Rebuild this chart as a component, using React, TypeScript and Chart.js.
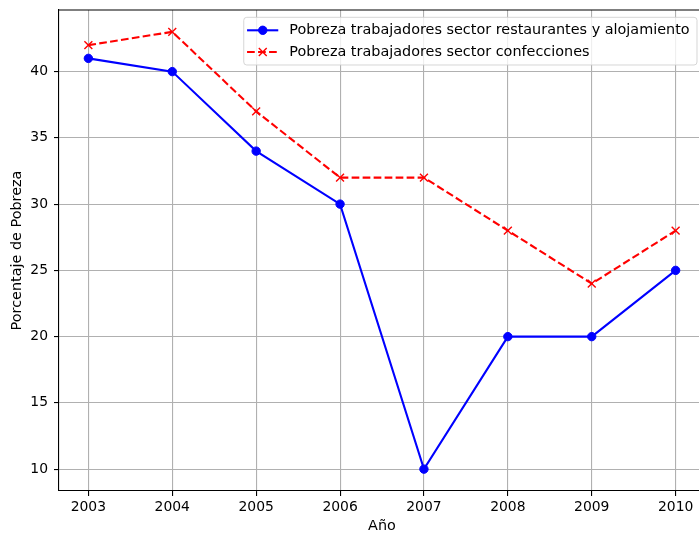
import { useEffect, useRef } from "react";
import { Chart, registerables } from "chart.js";

Chart.register(...registerables);

const years = [2003, 2004, 2005, 2006, 2007, 2008, 2009, 2010];
const restaurantes = [41, 40, 34, 30, 10, 20, 20, 25];
const confecciones = [42, 43, 37, 32, 32, 28, 24, 28];
const yTicks = [10, 15, 20, 25, 30, 35, 40];
const labelRest = "Pobreza trabajadores sector restaurantes y alojamiento";
const labelConf = "Pobreza trabajadores sector confecciones";
const xTitle = "Año";
const yTitle = "Porcentaje de Pobreza";

const FONT = "'DejaVu Sans', sans-serif";
const FS = 13.9;
const LFS = 14.4;

function margins(vals: number[]) {
  const lo = Math.min(...vals);
  const hi = Math.max(...vals);
  const m = (hi - lo) * 0.05;
  return [lo - m, hi + m];
}

const legendFrame = {
  id: "legendFrame",
  afterDraw(chart: any) {
    const { ctx, chartArea } = chart;
    ctx.save();
    // top spine
    ctx.strokeStyle = "#000";
    ctx.lineWidth = 1.1;
    ctx.beginPath();
    ctx.moveTo(chartArea.left, chartArea.top);
    ctx.lineTo(chartArea.right, chartArea.top);
    ctx.stroke();

    // legend
    ctx.font = `${LFS}px ${FONT}`;
    const ds = chart.data.datasets;
    const tw = Math.max(...ds.map((d: any) => ctx.measureText(d.label).width));
    const right = chartArea.right - 8;
    const textLeft = right - 7.4 - tw;
    const left = textLeft - 45.6;
    const top = chartArea.top + 7.3;
    const h = 47.7;
    ctx.beginPath();
    if ((ctx as any).roundRect) (ctx as any).roundRect(left, top, right - left, h, 3);
    else ctx.rect(left, top, right - left, h);
    ctx.fillStyle = "rgba(255,255,255,0.8)";
    ctx.fill();
    ctx.strokeStyle = "rgba(204,204,204,0.8)";
    ctx.lineWidth = 1;
    ctx.stroke();

    ds.forEach((d: any, i: number) => {
      const y = top + 13 + i * 21.7;
      const x0 = left + 3.3;
      const x1 = left + 34.5;
      const xm = left + 19;
      ctx.save();
      ctx.strokeStyle = d.borderColor;
      ctx.lineWidth = d.borderWidth;
      ctx.setLineDash(d.borderDash || []);
      ctx.beginPath();
      ctx.moveTo(x0, y);
      ctx.lineTo(x1, y);
      ctx.stroke();
      ctx.setLineDash([]);
      if (d.pointStyle === "circle") {
        ctx.beginPath();
        ctx.arc(xm, y, d.pointRadius, 0, Math.PI * 2);
        ctx.fillStyle = d.pointBackgroundColor;
        ctx.fill();
        ctx.lineWidth = d.pointBorderWidth;
        ctx.strokeStyle = d.pointBorderColor;
        ctx.stroke();
      } else {
        const r = d.pointRadius * Math.SQRT1_2;
        ctx.lineWidth = d.pointBorderWidth;
        ctx.strokeStyle = d.pointBorderColor;
        ctx.beginPath();
        ctx.moveTo(xm - r, y - r);
        ctx.lineTo(xm + r, y + r);
        ctx.moveTo(xm - r, y + r);
        ctx.lineTo(xm + r, y - r);
        ctx.stroke();
      }
      ctx.fillStyle = "#000";
      ctx.textBaseline = "middle";
      ctx.textAlign = "left";
      ctx.font = `${LFS}px ${FONT}`;
      ctx.fillText(d.label, textLeft, y);
      ctx.restore();
    });
    ctx.restore();
  },
};

export default function App() {
  const ref = useRef<HTMLCanvasElement>(null);
  useEffect(() => {
    if (!ref.current) return;
    const [xMin, xMax] = margins(years);
    const [yMin, yMax] = margins([...restaurantes, ...confecciones]);
    const tickFont = { family: FONT, size: FS };
    const titleFont = { family: FONT, size: LFS };
    const chart = new Chart(ref.current, {
      type: "line",
      data: {
        datasets: [
          {
            label: labelRest,
            data: years.map((x, i) => ({ x, y: restaurantes[i] })),
            borderColor: "blue",
            backgroundColor: "blue",
            borderWidth: 2.08,
            pointStyle: "circle",
            pointRadius: 4.2,
            pointBorderWidth: 1,
            pointBackgroundColor: "blue",
            pointBorderColor: "blue",
            tension: 0,
            order: 1,
          },
          {
            label: labelConf,
            data: years.map((x, i) => ({ x, y: confecciones[i] })),
            borderColor: "red",
            backgroundColor: "red",
            borderWidth: 2.08,
            borderDash: [7.7, 3.3],
            pointStyle: "crossRot",
            pointRadius: 5.6,
            pointBorderWidth: 1.4,
            pointBackgroundColor: "red",
            pointBorderColor: "red",
            tension: 0,
            order: 0,
          },
        ] as any,
      },
      options: {
        animation: false,
        responsive: false,
        devicePixelRatio: 1,
        layout: { autoPadding: false, padding: { top: 10, left: 0, right: 0, bottom: 0 } },
        plugins: { legend: { display: false }, tooltip: { enabled: false } },
        scales: {
          x: {
            type: "linear",
            min: xMin,
            max: xMax,
            afterBuildTicks: (s: any) => {
              s.ticks = years.map((v) => ({ value: v }));
            },
            afterFit: (s: any) => {
              s.height = 43;
              s.paddingLeft = 0;
              s.paddingRight = 0;
            },
            ticks: {
              font: tickFont,
              color: "#000",
              padding: 3.2,
              maxRotation: 0,
              autoSkip: false,
              callback: (v: any) => String(v),
            },
            grid: {
              color: "#b0b0b0",
              lineWidth: 1.1,
              tickLength: 5,
              tickColor: "#000",
              tickWidth: 1.1,
            },
            border: { color: "#000", width: 1.1 },
            title: {
              display: true,
              text: xTitle,
              font: titleFont,
              color: "#000",
              padding: { top: 0, bottom: -0.5 },
            },
          },
          y: {
            type: "linear",
            min: yMin,
            max: yMax,
            afterBuildTicks: (s: any) => {
              s.ticks = yTicks.map((v) => ({ value: v }));
            },
            afterFit: (s: any) => {
              s.width = 59;
              s.paddingTop = 0;
              s.paddingBottom = 0;
            },
            ticks: {
              font: tickFont,
              color: "#000",
              padding: 6,
              autoSkip: false,
              callback: (v: any) => String(v),
            },
            grid: {
              color: "#b0b0b0",
              lineWidth: 1.1,
              tickLength: 5,
              tickColor: "#000",
              tickWidth: 1.1,
            },
            border: { color: "#000", width: 1.1 },
            title: {
              display: true,
              text: yTitle,
              font: titleFont,
              color: "#000",
              padding: { top: 8.9, bottom: 0 },
            },
          },
        },
      } as any,
      plugins: [legendFrame],
    });
    return () => chart.destroy();
  }, []);
  return (
    <div
      style={{
        position: "fixed",
        left: 0,
        top: 0,
        width: 699,
        height: 534,
        overflow: "hidden",
        background: "#fff",
      }}
    >
      <canvas ref={ref} width={705} height={534} style={{ display: "block", width: 705, height: 534 }} />
    </div>
  );
}
